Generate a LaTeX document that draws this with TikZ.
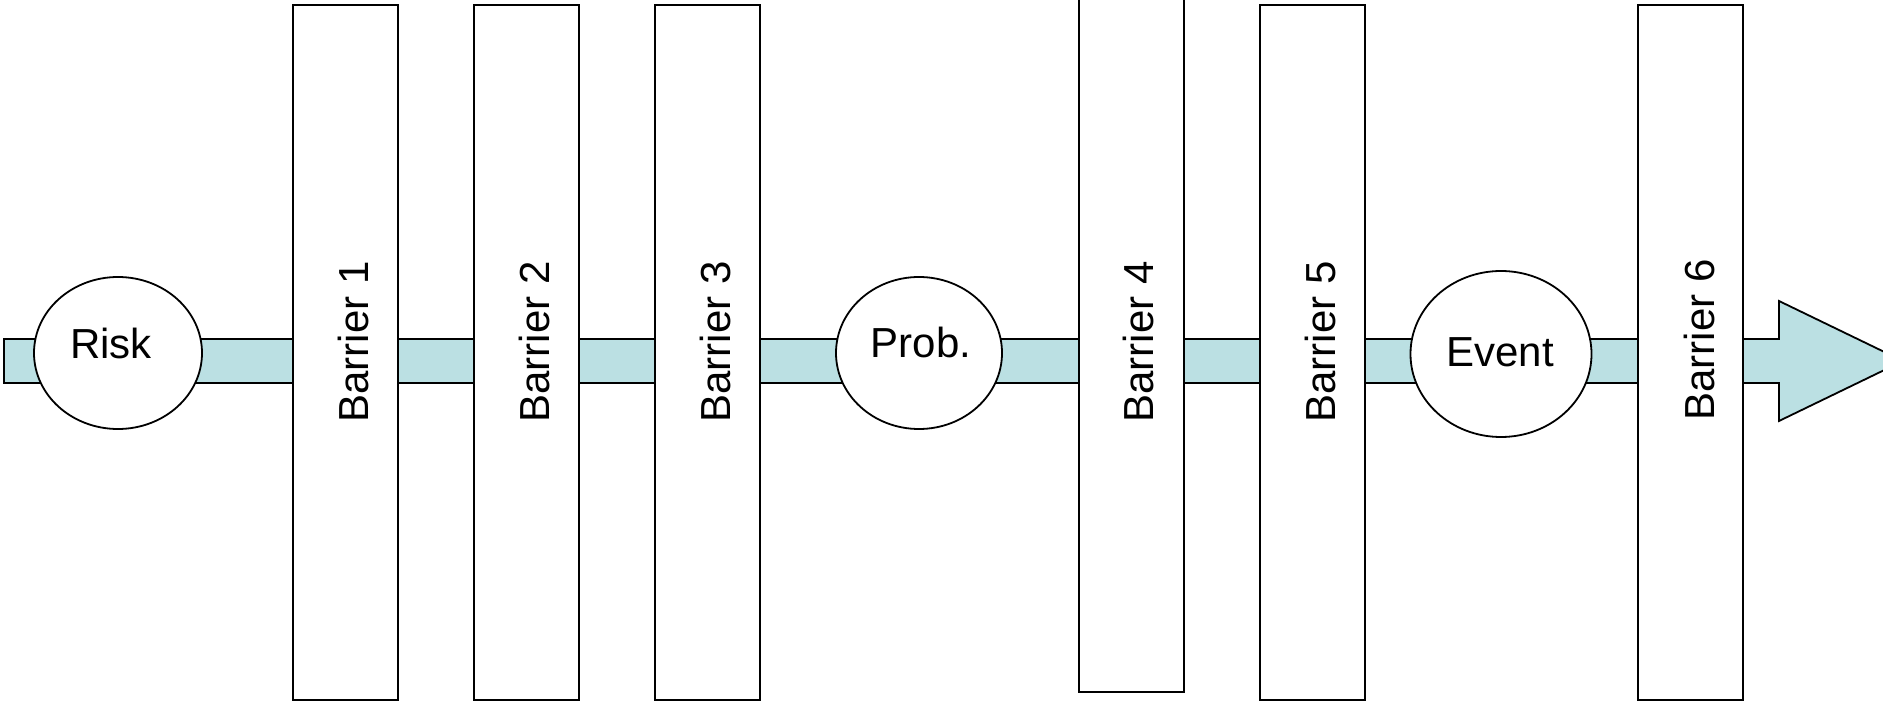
\documentclass[tikz,border=0pt]{standalone}
\usepackage{fontspec}
\setmainfont{Liberation Sans}
\usetikzlibrary{shapes.geometric}
\definecolor{bandblue}{RGB}{187,224,227}
\tikzset{
  barrierbox/.style={draw=black, fill=white, line width=1.8pt, rectangle, inner sep=0pt,
    minimum width=105pt, minimum height=695pt, anchor=south west},
  stateellipse/.style={draw=black, fill=white, line width=1.8pt, ellipse, inner sep=0pt},
  lbl/.style={inner sep=0pt, anchor=base, font=\fontsize{42}{50}\selectfont},
  bandstyle/.style={draw=black, fill=bandblue, line width=1.8pt, line join=miter}
}
\begin{document}
\begin{tikzpicture}[x=1pt,y=1pt]
\useasboundingbox (0,0) rectangle (1883,702);
\clip (0,0) rectangle (1883,702);
\fill[white] (0,0) rectangle (1883,702);
% band with arrow head
\draw[bandstyle] (4,363) -- (1779,363) -- (1779,401) -- (1903,341) -- (1779,281) -- (1779,319) -- (4,319) -- cycle;
% barriers
\node[barrierbox] (b1) at (292,1) {};
\node[barrierbox] (b2) at (473,1) {};
\node[barrierbox] (b3) at (654,1) {};
\node[barrierbox] (b4) at (1078,9) {};
\node[barrierbox] (b5) at (1259,1) {};
\node[barrierbox] (b6) at (1637,1) {};
\node[lbl, rotate=90] (t1) at (368,360) {Barrier 1};
\node[lbl, rotate=90] (t2) at (549,360) {Barrier 2};
\node[lbl, rotate=90] (t3) at (730,360) {Barrier 3};
\node[lbl, rotate=90] (t4) at (1153,360) {Barrier 4};
\node[lbl, rotate=90] (t5) at (1335,360) {Barrier 5};
\node[lbl, rotate=90] (t6) at (1714,362) {Barrier 6};
% ellipses
\node[stateellipse, minimum width=168pt, minimum height=152pt] (risk) at (118,349) {};
\node[stateellipse, minimum width=166pt, minimum height=152pt] (prob) at (919,349) {};
\node[stateellipse, minimum width=181pt, minimum height=166pt] (event) at (1501,348) {};
\node[lbl] (trisk) at (111,343) {Risk};
\node[lbl] (tprob) at (921,344) {Prob.};
\node[lbl] (tevent) at (1500,335) {Event};
\end{tikzpicture}
\end{document}
